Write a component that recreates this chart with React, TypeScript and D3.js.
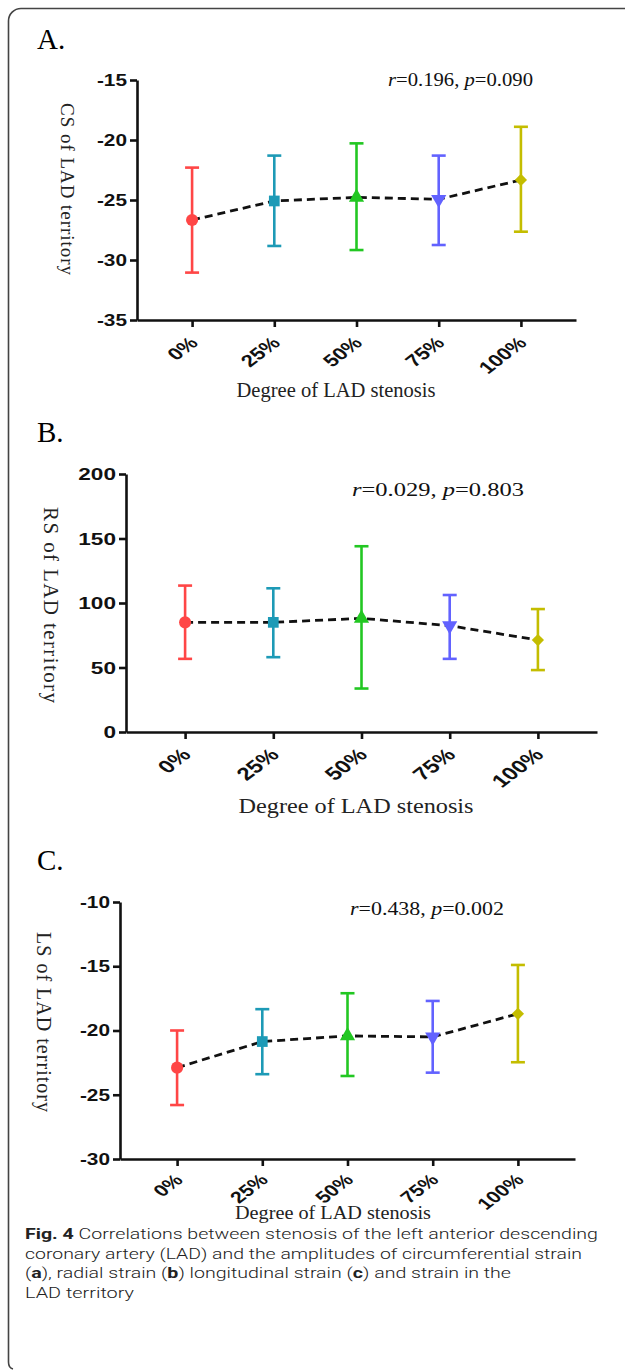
import React, { useEffect, useRef } from 'react';
import * as d3 from 'd3';

// groups on the x axis
const categories = ['0%', '25%', '50%', '75%', '100%'];
const groupColors = ['#ff4646', '#1d9ab6', '#22c722', '#6262ff', '#c4bd00'];
const groupShapes = ['circle', 'square', 'triangle', 'triangleDown', 'diamond'];

// A. circumferential strain (mean, upper and lower end of the bar)
const csMean = [-26.67, -25.08, -24.78, -24.94, -23.33];
const csUpper = [-22.3, -21.3, -20.28, -21.3, -18.9];
const csLower = [-31.05, -28.83, -29.17, -28.75, -27.64];
const csTicks = [-35, -30, -25, -20, -15];

// B. radial strain
const rsMean = [85, 85, 88.1, 82.4, 71.3];
const rsUpper = [113.5, 111.4, 144, 106.2, 95.3];
const rsLower = [56.7, 58, 33.7, 56.7, 48];
const rsTicks = [0, 50, 100, 150, 200];

// C. longitudinal strain
const lsMean = [-22.89, -20.86, -20.42, -20.5, -18.7];
const lsUpper = [-20.0, -18.34, -17.1, -17.7, -14.9];
const lsLower = [-25.8, -23.4, -23.54, -23.28, -22.47];
const lsTicks = [-30, -25, -20, -15, -10];

const serif = "'Liberation Serif', 'Times New Roman', serif";
const sans = "'Liberation Sans', Arial, sans-serif";

function drawPanel(svg: any, p: any) {
  const g = svg.append('g');
  const y = d3
    .scaleLinear()
    .domain([p.ticks[0], p.ticks[p.ticks.length - 1]])
    .range([p.bottom, p.top]);
  const x = d3.scalePoint().domain(categories).range([p.left, p.right]).padding(0.67);

  // panel letter
  g.append('text')
    .attr('x', 37)
    .attr('y', p.letterY)
    .attr('font-family', serif)
    .style('font-size', '29px')
    .text(p.letter);

  // axes
  const ya = g
    .append('g')
    .attr('transform', `translate(${p.left},0)`)
    .call(d3.axisLeft(y).tickValues(p.ticks).tickSize(7).tickSizeOuter(0).tickFormat(() => ''));
  const xa = g
    .append('g')
    .attr('transform', `translate(0,${p.bottom})`)
    .call(d3.axisBottom(x).tickSize(7).tickSizeOuter(0).tickFormat(() => ''));
  [ya, xa].forEach((a) => {
    a.select('.domain').attr('stroke', '#111').attr('stroke-width', 2.6);
    a.selectAll('.tick line').attr('stroke', '#111').attr('stroke-width', 2.6);
  });

  // y tick labels (bold, a bit wide)
  g.append('g')
    .selectAll('text')
    .data(p.ticks)
    .enter()
    .append('text')
    .attr('transform', (d: number) => `translate(${p.left - 10},${y(d)}) scale(${p.sx},1)`)
    .attr('dy', '0.36em')
    .attr('text-anchor', 'end')
    .attr('font-family', sans)
    .attr('font-weight', 'bold')
    .style('font-size', p.tickFont + 'px')
    .attr('fill', '#111')
    .text((d: number) => String(d));

  // x tick labels, rotated
  g.append('g')
    .selectAll('text')
    .data(categories)
    .enter()
    .append('text')
    .attr(
      'transform',
      (d: string) =>
        `translate(${(x(d) as number) + 7},${p.bottom + p.xTickDrop}) scale(${p.sx},1) rotate(-45)`
    )
    .attr('text-anchor', 'end')
    .attr('font-family', sans)
    .attr('font-weight', 'bold')
    .style('font-size', p.xTickFont + 'px')
    .attr('fill', '#111')
    .text((d: string) => d);

  // error bars
  const bars = g.append('g');
  categories.forEach((c, i) => {
    const cx = x(c) as number;
    const col = groupColors[i];
    bars.append('line')
      .attr('x1', cx).attr('x2', cx)
      .attr('y1', y(p.upper[i])).attr('y2', y(p.lower[i]))
      .attr('stroke', col).attr('stroke-width', 2.6);
    [p.upper[i], p.lower[i]].forEach((v: number) => {
      bars.append('line')
        .attr('x1', cx - 7).attr('x2', cx + 7)
        .attr('y1', y(v)).attr('y2', y(v))
        .attr('stroke', col).attr('stroke-width', 2.6);
    });
  });

  // dashed mean line
  const line = d3
    .line<number>()
    .x((d, i) => x(categories[i]) as number)
    .y((d) => y(d));
  g.append('path')
    .attr('d', line(p.mean))
    .attr('fill', 'none')
    .attr('stroke', '#111')
    .attr('stroke-width', 2.8)
    .attr('stroke-dasharray', '8,5');

  // markers
  const shapeOf: any = {
    circle: [d3.symbolCircle, 115, 0],
    square: [d3.symbolSquare, 115, 0],
    triangle: [d3.symbolTriangle, 100, 0],
    triangleDown: [d3.symbolTriangle, 100, 180],
    diamond: [d3.symbolSquare, 75, 45],
  };
  categories.forEach((c, i) => {
    const [type, size, rot] = shapeOf[groupShapes[i]];
    g.append('path')
      .attr('d', d3.symbol().type(type).size(size)())
      .attr('transform', `translate(${x(c)},${y(p.mean[i])}) rotate(${rot})`)
      .attr('fill', groupColors[i]);
  });

  // statistics
  const st = g
    .append('text')
    .attr('x', p.statX)
    .attr('y', p.statY)
    .attr('font-family', serif)
    .style('font-size', p.statFont + 'px')
    .attr('textLength', p.statLen)
    .attr('lengthAdjust', 'spacingAndGlyphs')
    .attr('fill', '#111');
  st.append('tspan').attr('font-style', 'italic').text('r');
  st.append('tspan').text(`=${p.r}, `);
  st.append('tspan').attr('font-style', 'italic').text('p');
  st.append('tspan').text(`=${p.p}`);

  // y axis title
  g.append('text')
    .attr('transform', `translate(${p.yLabelX},${p.yLabelY}) rotate(90)`)
    .attr('text-anchor', 'middle')
    .attr('dy', '0.3em')
    .attr('font-family', serif)
    .style('font-size', p.yLabelFont + 'px')
    .attr('textLength', p.yLabelLen)
    .attr('lengthAdjust', 'spacing')
    .attr('fill', '#222')
    .text(p.yLabel);

  // x axis title
  g.append('text')
    .attr('x', p.xLabelX)
    .attr('y', p.xLabelY)
    .attr('text-anchor', 'middle')
    .attr('font-family', serif)
    .style('font-size', p.xLabelFont + 'px')
    .attr('textLength', p.xLabelLen)
    .attr('lengthAdjust', 'spacingAndGlyphs')
    .attr('fill', '#222')
    .text('Degree of LAD stenosis');
}

export default function App() {
  const ref = useRef<SVGSVGElement>(null);

  useEffect(() => {
    const svg = d3.select(ref.current);
    svg.selectAll('*').remove();

    // frame
    svg.append('path')
      .attr('d', 'M 625 8.5 H 21 A 12.5 12.5 0 0 0 8.5 21 V 1362 Q 8.5 1368 13 1369')
      .attr('fill', 'none')
      .attr('stroke', '#444')
      .attr('stroke-width', 1.6);

    drawPanel(svg, {
      letter: 'A.', letterY: 49,
      ticks: csTicks, mean: csMean, upper: csUpper, lower: csLower,
      left: 137, right: 576, top: 80, bottom: 320,
      sx: 1.3, tickFont: 16, xTickFont: 17, xTickDrop: 24,
      r: '0.196', p: '0.090', statX: 388, statY: 86, statFont: 19, statLen: 145,
      yLabel: 'CS of LAD territory', yLabelX: 67, yLabelY: 189, yLabelFont: 19, yLabelLen: 172,
      xLabelX: 336, xLabelY: 397, xLabelFont: 20, xLabelLen: 199,
    });
    drawPanel(svg, {
      letter: 'B.', letterY: 442,
      ticks: rsTicks, mean: rsMean, upper: rsUpper, lower: rsLower,
      left: 126, right: 597, top: 474, bottom: 732,
      sx: 1.33, tickFont: 17, xTickFont: 18, xTickDrop: 24,
      r: '0.029', p: '0.803', statX: 352, statY: 496, statFont: 19, statLen: 172,
      yLabel: 'RS of LAD territory', yLabelX: 50, yLabelY: 605, yLabelFont: 21, yLabelLen: 196,
      xLabelX: 356, xLabelY: 813, xLabelFont: 20, xLabelLen: 235,
    });
    drawPanel(svg, {
      letter: 'C.', letterY: 870,
      ticks: lsTicks, mean: lsMean, upper: lsUpper, lower: lsLower,
      left: 120, right: 575, top: 902, bottom: 1159,
      sx: 1.3, tickFont: 16, xTickFont: 16.5, xTickDrop: 22,
      r: '0.438', p: '0.002', statX: 350, statY: 915, statFont: 19, statLen: 154,
      yLabel: 'LS of LAD territory', yLabelX: 43, yLabelY: 1022, yLabelFont: 20, yLabelLen: 180,
      xLabelX: 333, xLabelY: 1219, xLabelFont: 19, xLabelLen: 196,
    });

    // caption
    const cap = svg.append('g')
      .attr('font-family', "Roboto, 'Open Sans', sans-serif")
      .attr('font-weight', 300)
      .style('font-size', '15.5px')
      .attr('fill', '#222');
    const l1 = cap.append('text').attr('x', 25).attr('y', 1239)
      .attr('textLength', 573).attr('lengthAdjust', 'spacingAndGlyphs');
    l1.append('tspan').attr('font-weight', 'bold').text('Fig. 4');
    l1.append('tspan').text(' Correlations between stenosis of the left anterior descending');
    cap.append('text').attr('x', 25).attr('y', 1258.5)
      .attr('textLength', 557).attr('lengthAdjust', 'spacingAndGlyphs')
      .text('coronary artery (LAD) and the amplitudes of circumferential strain');
    const l3 = cap.append('text').attr('x', 25).attr('y', 1278)
      .attr('textLength', 486).attr('lengthAdjust', 'spacingAndGlyphs');
    const parts: [string, boolean][] = [
      ['(', false], ['a', true], ['), radial strain (', false], ['b', true],
      [') longitudinal strain (', false], ['c', true], [') and strain in the', false],
    ];
    parts.forEach(([t, b]) => {
      const s = l3.append('tspan').text(t);
      if (b) s.attr('font-weight', 'bold');
    });
    cap.append('text').attr('x', 25).attr('y', 1297.5)
      .attr('textLength', 109).attr('lengthAdjust', 'spacingAndGlyphs')
      .text('LAD territory');
  }, []);

  return (
    <svg
      ref={ref}
      width={625}
      height={1370}
      style={{ position: 'absolute', left: 0, top: 0, background: '#fff' }}
    />
  );
}
